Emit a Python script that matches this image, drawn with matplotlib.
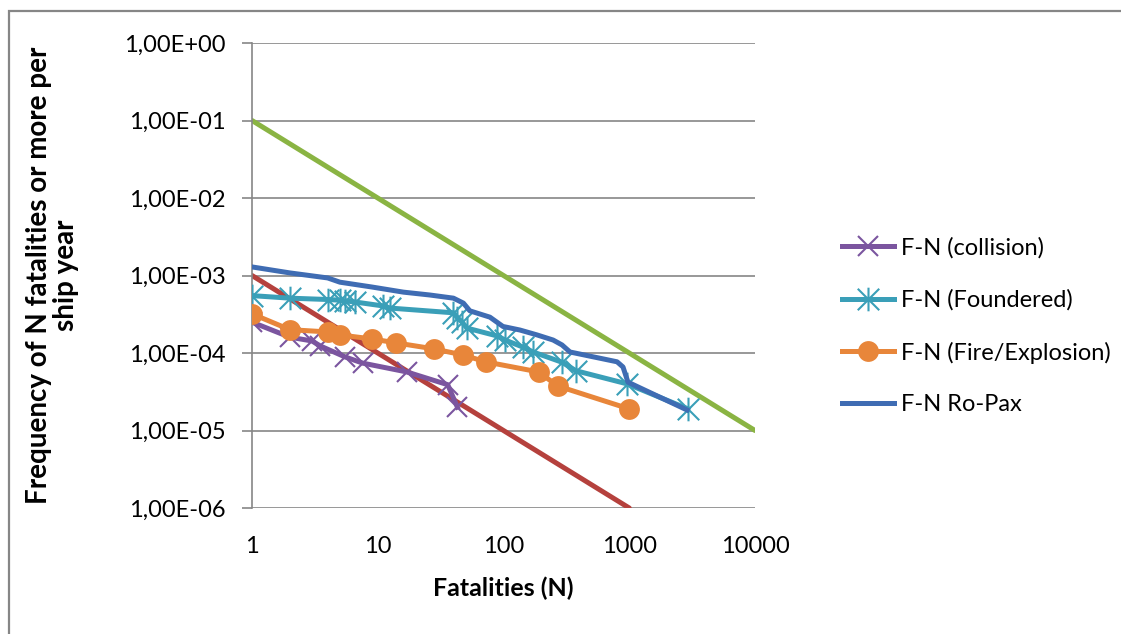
import matplotlib
matplotlib.use("Agg")
import matplotlib.pyplot as plt
import numpy as np
from matplotlib.path import Path
from matplotlib.patches import Rectangle
from matplotlib.ticker import FuncFormatter, FixedLocator, NullLocator

# F-N curves: number of fatalities N and frequency of N or more per ship year
collision_n = [1, 2, 3, 3.5, 5.5, 7.6, 17, 36, 43]
collision_f = [2.5e-4, 1.6e-4, 1.43e-4, 1.23e-4, 8.9e-5, 7.4e-5, 5.7e-5, 3.9e-5, 2.0e-5]

foundered_n = [1, 2, 4, 5, 5.5, 6.6, 11, 12.5, 40, 43, 47, 51, 89, 103, 143, 172, 292, 377, 960, 2930]
foundered_f = [5.5e-4, 5.1e-4, 4.9e-4, 4.8e-4, 4.7e-4, 4.55e-4, 4.05e-4, 3.8e-4, 3.3e-4, 2.85e-4,
               2.5e-4, 2.1e-4, 1.66e-4, 1.47e-4, 1.19e-4, 1.03e-4, 7.6e-5, 5.9e-5, 4.0e-5, 1.9e-5]

fire_n = [1, 2, 4, 5, 9, 14, 28, 48, 72, 190, 270, 1000]
fire_f = [3.2e-4, 2.0e-4, 1.87e-4, 1.71e-4, 1.52e-4, 1.35e-4, 1.13e-4, 9.4e-5, 7.7e-5, 5.7e-5, 3.75e-5, 1.9e-5]

ropax_n = [1, 2, 4, 5, 9, 16, 26, 40, 48, 54, 78, 99, 135, 185, 248, 292, 338, 800, 892, 977, 2880]
ropax_f = [1.29e-3, 1.08e-3, 9.3e-4, 8.2e-4, 7.1e-4, 6.1e-4, 5.6e-4, 5.1e-4, 4.4e-4, 3.5e-4, 2.9e-4,
           2.2e-4, 1.98e-4, 1.71e-4, 1.47e-4, 1.27e-4, 1.03e-4, 7.7e-5, 6.6e-5, 4.2e-5, 1.84e-5]

# ALARP criterion lines
lower_n = [1, 1000]
lower_f = [1e-3, 1e-6]
upper_n = [1, 10000]
upper_f = [1e-1, 1e-5]

y_ticks = [1e0, 1e-1, 1e-2, 1e-3, 1e-4, 1e-5, 1e-6]
x_ticks = [1, 10, 100, 1000, 10000]

plt.rcParams['font.family'] = ['Lato', 'DejaVu Sans']
plt.rcParams['font.size'] = 17

grey = '#868686'

# asterisk marker: an x with a vertical bar through it
star = Path([(-1, -1), (1, 1), (-1, 1), (1, -1), (0, -1.1), (0, 1.1)],
            [Path.MOVETO, Path.LINETO, Path.MOVETO, Path.LINETO, Path.MOVETO, Path.LINETO])

fig = plt.figure(figsize=(11.21, 6.34), dpi=100)
fig.patches.append(Rectangle((9 / 1121, -0.1), 1.2, 1 - 11 / 634 + 0.1, transform=fig.transFigure,
                             fill=False, edgecolor=grey, linewidth=1.6))
ax = fig.add_axes([252 / 1121, 1 - 508 / 634, 503 / 1121, 465 / 634])

lw = 3.6
ax.plot(lower_n, lower_f, color='#B5413D', lw=lw, solid_capstyle='round', zorder=2)
ax.plot(upper_n, upper_f, color='#8AB443', lw=lw, solid_capstyle='round', zorder=2)
ax.plot(collision_n, collision_f, color='#7B559F', lw=lw, marker='x', ms=15, mew=1.5,
        label='F-N (collision)', zorder=3)
ax.plot(foundered_n, foundered_f, color='#3A9FB8', lw=lw, marker=star, ms=17, mew=1.5,
        mfc='none', label='F-N (Foundered)', zorder=4)
ax.plot(fire_n, fire_f, color='#E8863A', lw=lw, marker='o', ms=15, mew=0,
        label='F-N (Fire/Explosion)', zorder=5)
ax.plot(ropax_n, ropax_f, color='#3F6CB3', lw=lw, label='F-N Ro-Pax', zorder=6)

ax.set_xscale('log')
ax.set_yscale('log')
ax.set_xlim(1, 10000)
ax.set_ylim(1e-6, 1e0)
ax.xaxis.set_major_locator(FixedLocator(x_ticks))
ax.yaxis.set_major_locator(FixedLocator(y_ticks))
ax.xaxis.set_minor_locator(NullLocator())
ax.yaxis.set_minor_locator(NullLocator())
ax.xaxis.set_major_formatter(FuncFormatter(lambda v, p: '%d' % round(v)))
ax.yaxis.set_major_formatter(FuncFormatter(lambda v, p: ('%.2E' % v).replace('.', ',')))

ax.grid(axis='y', color=grey, lw=1.2)
ax.set_axisbelow(True)
for s in ['top', 'right', 'bottom']:
    ax.spines[s].set_visible(False)
ax.spines['left'].set_color(grey)
ax.spines['left'].set_linewidth(1.2)
ax.tick_params(axis='y', length=7, width=1.2, color=grey, pad=12)
ax.tick_params(axis='x', length=0, pad=20)

ax.set_xlabel('Fatalities (N)', fontweight='bold', fontsize=18, labelpad=14)
ax.set_ylabel('Frequency of N fatalities or more per\nship year', fontweight='bold',
              fontsize=20, linespacing=1.05)
ax.yaxis.set_label_coords(-0.344, 0.5)

ax.legend(loc='center left', bbox_to_anchor=(1.13, 0.391), frameon=False, handlelength=2.2,
          handletextpad=0.3, labelspacing=1.3)

fig.savefig('out.png', dpi=100)
